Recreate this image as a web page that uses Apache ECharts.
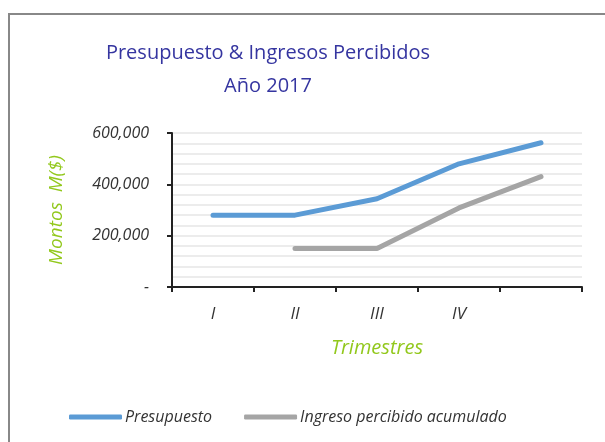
<!DOCTYPE html>
<html>
<head>
<meta charset="utf-8">
<script src="https://cdn.jsdelivr.net/npm/echarts@6/dist/echarts.min.js"></script>
<style>
html, body { margin: 0; padding: 0; background: #fff; }
#chart { width: 605px; height: 442px; }
</style>
</head>
<body>
<div id="chart"></div>
<script>
// datos
var trimestres = ['I', 'II', 'III', 'IV', ''];
var presupuesto = [280000, 280000, 344000, 480000, 562000];
var ingresoAcumulado = [null, 150000, 150000, 308000, 430000];
var yTicks = [0, 200000, 400000, 600000];

var chart = echarts.init(document.getElementById('chart'));

function fmtMonto(v) {
  if (v === 0) return '-';
  return v.toLocaleString('en-US');
}

chart.setOption({
  animation: false,
  textStyle: { fontFamily: 'Open Sans' },
  graphic: [{
    type: 'rect',
    shape: { x: 9, y: 14, width: 700, height: 500 },
    style: { fill: 'none', stroke: '#888', lineWidth: 2 },
    silent: true
  }],
  title: {
    text: 'Presupuesto & Ingresos Percibidos\nAño 2017',
    left: 263,
    top: 32,
    textAlign: 'center',
    textStyle: {
      color: '#3535a0',
      fontSize: 20,
      fontWeight: 'normal',
      lineHeight: 33,
      fontFamily: 'Open Sans'
    }
  },
  legend: {
    bottom: 17,
    left: 69,
    padding: 0,
    itemWidth: 53,
    itemHeight: 5,
    itemGap: 32,
    icon: 'roundRect',
    textStyle: { fontSize: 16, fontStyle: 'italic', color: '#333', padding: [0, 0, 0, -2] },
    data: ['Presupuesto', 'Ingreso percibido acumulado']
  },
  grid: { left: 172, top: 133, right: 23, bottom: 155 },
  xAxis: {
    type: 'category',
    data: trimestres,
    boundaryGap: true,
    name: 'Trimestres',
    nameLocation: 'middle',
    nameGap: 51,
    nameTextStyle: { color: '#92c81c', fontSize: 20, fontStyle: 'italic' },
    axisLine: { lineStyle: { color: '#222', width: 2 } },
    axisTick: { show: true, length: 5, lineStyle: { color: '#222', width: 2 } },
    axisLabel: { color: '#333', fontSize: 17, fontStyle: 'italic', margin: 19 }
  },
  yAxis: {
    type: 'value',
    min: 0,
    max: 600000,
    interval: 200000,
    name: 'Montos  M($)',
    nameLocation: 'middle',
    nameGap: 106,
    nameTextStyle: { color: '#92c81c', fontSize: 19, fontStyle: 'italic' },
    axisLine: { show: true, lineStyle: { color: '#222', width: 2 } },
    axisTick: { show: true, length: 5, inside: false, lineStyle: { color: '#222', width: 2 } },
    axisLabel: {
      color: '#333', fontSize: 16, fontStyle: 'italic', margin: 23,
      formatter: function (v) { return yTicks.indexOf(v) >= 0 ? fmtMonto(v) : ''; }
    },
    splitLine: { show: true, lineStyle: { color: '#ececec', width: 2 } },
    minorTick: { show: false, splitNumber: 5 },
    minorSplitLine: { show: true, lineStyle: { color: '#ececec', width: 2 } }
  },
  series: [{
    name: 'Presupuesto',
    type: 'line',
    data: presupuesto,
    symbol: 'none',
    lineStyle: { color: '#5b9bd5', width: 5, cap: 'round' },
    itemStyle: { color: '#5b9bd5' }
  }, {
    name: 'Ingreso percibido acumulado',
    type: 'line',
    data: ingresoAcumulado,
    symbol: 'none',
    connectNulls: false,
    lineStyle: { color: '#a5a5a5', width: 5, cap: 'round' },
    itemStyle: { color: '#a5a5a5' }
  }]
});
</script>
</body>
</html>
